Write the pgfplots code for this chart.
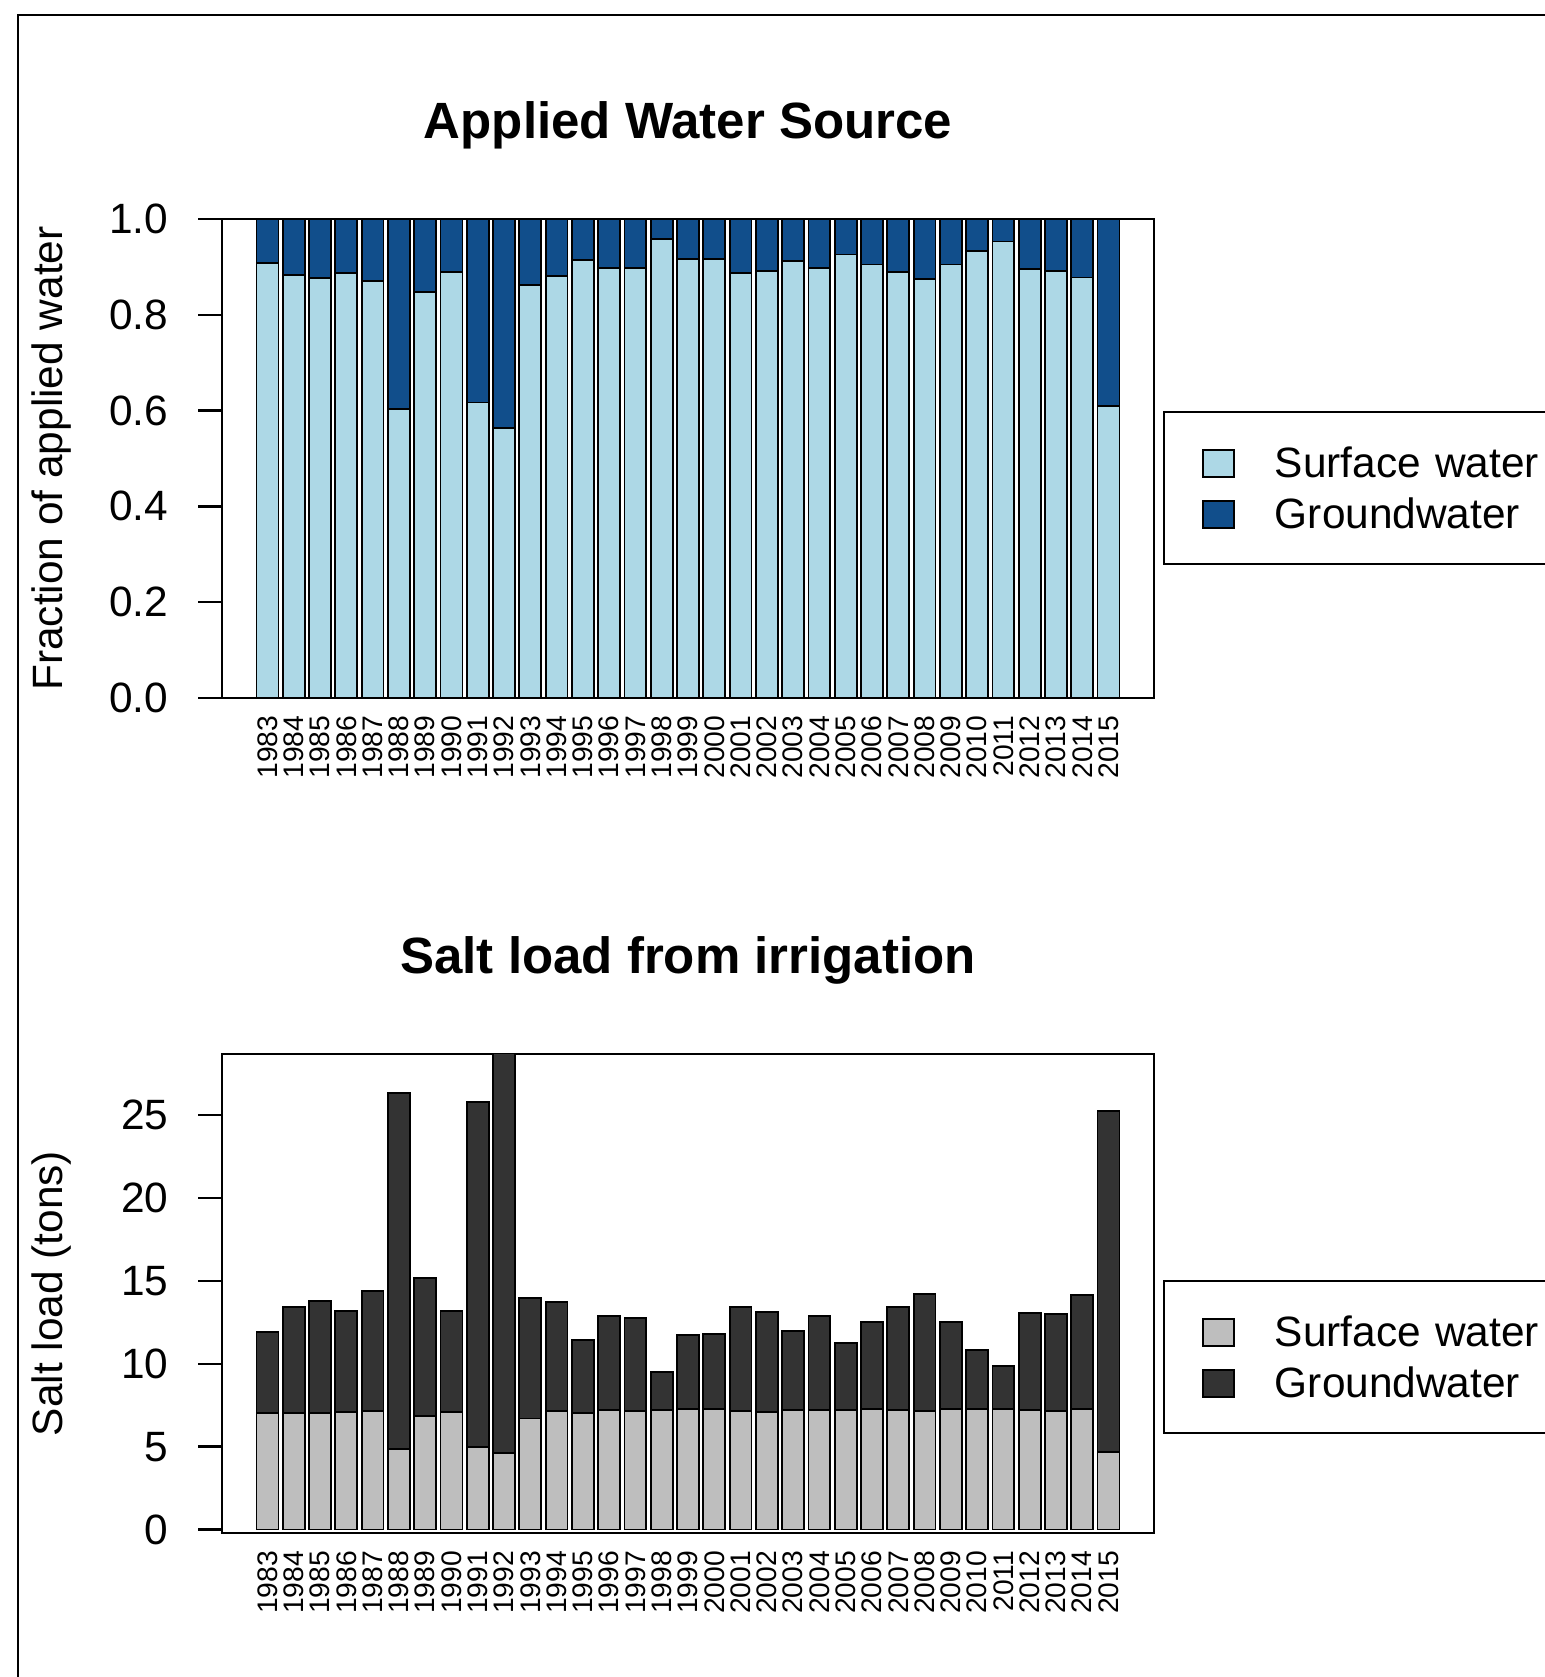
\documentclass[border=0pt]{standalone}
\usepackage{fontspec}
\setmainfont{Liberation Sans}
\usepackage{pgfplots}
\usepackage{pgfplotstable}
\pgfplotsset{compat=1.18}
\definecolor{swlight}{HTML}{ADD8E6}
\definecolor{gwdark}{HTML}{114E8B}
\definecolor{sgray}{HTML}{BEBEBE}
\definecolor{ggray}{HTML}{333333}

% fraction of applied water
\pgfplotstableread{
i year sw gw
0 1983 0.908 0.092
1 1984 0.883 0.117
2 1985 0.876 0.124
3 1986 0.887 0.113
4 1987 0.871 0.129
5 1988 0.603 0.397
6 1989 0.847 0.153
7 1990 0.889 0.111
8 1991 0.617 0.383
9 1992 0.563 0.437
10 1993 0.863 0.137
11 1994 0.881 0.119
12 1995 0.915 0.085
13 1996 0.897 0.103
14 1997 0.897 0.103
15 1998 0.958 0.042
16 1999 0.916 0.084
17 2000 0.917 0.083
18 2001 0.888 0.112
19 2002 0.891 0.109
20 2003 0.912 0.088
21 2004 0.897 0.103
22 2005 0.926 0.074
23 2006 0.905 0.095
24 2007 0.889 0.111
25 2008 0.874 0.126
26 2009 0.905 0.095
27 2010 0.934 0.066
28 2011 0.953 0.047
29 2012 0.895 0.105
30 2013 0.892 0.108
31 2014 0.878 0.122
32 2015 0.609 0.391
}\fractable

% salt load (tons)
\pgfplotstableread{
i year sw gw
0 1983 7.05 4.86
1 1984 7.05 6.39
2 1985 7.05 6.73
3 1986 7.07 6.13
4 1987 7.15 7.25
5 1988 4.84 21.51
6 1989 6.83 8.32
7 1990 7.11 6.09
8 1991 4.96 20.84
9 1992 4.60 24.60
10 1993 6.70 7.28
11 1994 7.15 6.59
12 1995 7.01 4.40
13 1996 7.21 5.67
14 1997 7.17 5.59
15 1998 7.21 2.27
16 1999 7.25 4.46
17 2000 7.29 4.48
18 2001 7.15 6.29
19 2002 7.09 6.01
20 2003 7.21 4.76
21 2004 7.21 5.65
22 2005 7.21 4.02
23 2006 7.29 5.23
24 2007 7.23 6.21
25 2008 7.15 7.05
26 2009 7.25 5.28
27 2010 7.27 3.54
28 2011 7.29 2.59
29 2012 7.23 5.85
30 2013 7.13 5.85
31 2014 7.27 6.89
32 2015 4.69 20.53
}\salttable

\pgfplotsset{
  mybars/.style={
    scale only axis, width=233pt, height=119.75pt,
    anchor=south west,
    enlargelimits=false,
    xmin=-1.73, xmax=33.73,
    ybar stacked, bar width=0.8333,
    xtick={0,...,32},
    xticklabel={\pgfmathtruncatemacro\yr{1983+\tick}\yr},
    xtick style={draw=none},
    ytick pos=left,
    tick align=outside,
    major tick length=6pt,
    every tick/.style={black, line width=0.6pt},
    axis line style={line width=0.6pt},
    /pgf/number format/assume math mode=true,
    yticklabel style={font=\fontsize{10.6}{12}\selectfont, anchor=east, inner sep=0pt, xshift=-7.25pt},
    xticklabel style={font=\fontsize{7.07}{8}\selectfont, yshift=1.75pt, rotate=90, anchor=east, inner xsep=0pt, inner ysep=0pt},
    title style={font=\bfseries\fontsize{12.75}{15}\selectfont, at={(axis description cs:0.5,1.169)}, anchor=base, yshift=-6pt, inner sep=0pt},
    ylabel style={font=\fontsize{10.6}{12}\selectfont, at={(axis description cs:-0.1824,0.5)}, anchor=center, inner sep=0pt},
    legend cell align=left,
    legend image code/.code={
      \path (0pt,0pt) (27.25pt,0pt);
      \draw[##1, line width=0.45pt] (9.5pt,-3.625pt) rectangle (17.25pt,3.125pt);
    },
    legend style={draw=black, line width=0.55pt, inner xsep=0pt, inner ysep=7pt,
      row sep=1.5pt, column sep=0pt,
      nodes={inner sep=0pt, text height=9.25pt, text depth=2pt, text width=80pt,
        font=\fontsize{10.6}{12}\selectfont}},
  }
}

\begin{document}
\begin{tikzpicture}
\useasboundingbox (0,0) rectangle (386pt,-419.25pt);
\draw[line width=0.55pt] (4.5pt,-500pt) -- (4.5pt,-3.75pt) -- (500pt,-3.75pt);

\begin{axis}[mybars,
  at={(55.5pt,-174.5pt)},
  ymin=0, ymax=1,
  ytick={0,0.2,0.4,0.6,0.8,1.0},
  yticklabel style={/pgf/number format/.cd, fixed, fixed zerofill, precision=1},
  title={Applied Water Source},
  ylabel={Fraction of applied water},
  legend style={at={(axis description cs:1.0097,0.5992)}, anchor=north west},
]
\addplot[fill=swlight, draw=black, line width=0.45pt] table[x=i, y=sw] {\fractable};
\addplot[fill=gwdark, draw=black, line width=0.45pt] table[x=i, y=gw] {\fractable};
\legend{Surface water, Groundwater}
\end{axis}

\begin{axis}[mybars,
  at={(55.5pt,-383.25pt)},
  ymin=-0.21, ymax=28.68,
  ytick={0,5,10,15,20,25},
  title={Salt load from irrigation},
  ylabel={Salt load (tons)},
  legend style={at={(axis description cs:1.0097,0.528)}, anchor=north west},
]
\addplot[fill=sgray, draw=black, line width=0.45pt] table[x=i, y=sw] {\salttable};
\addplot[fill=ggray, draw=black, line width=0.45pt] table[x=i, y=gw] {\salttable};
\legend{Surface water, Groundwater}
\end{axis}
\end{tikzpicture}
\end{document}
